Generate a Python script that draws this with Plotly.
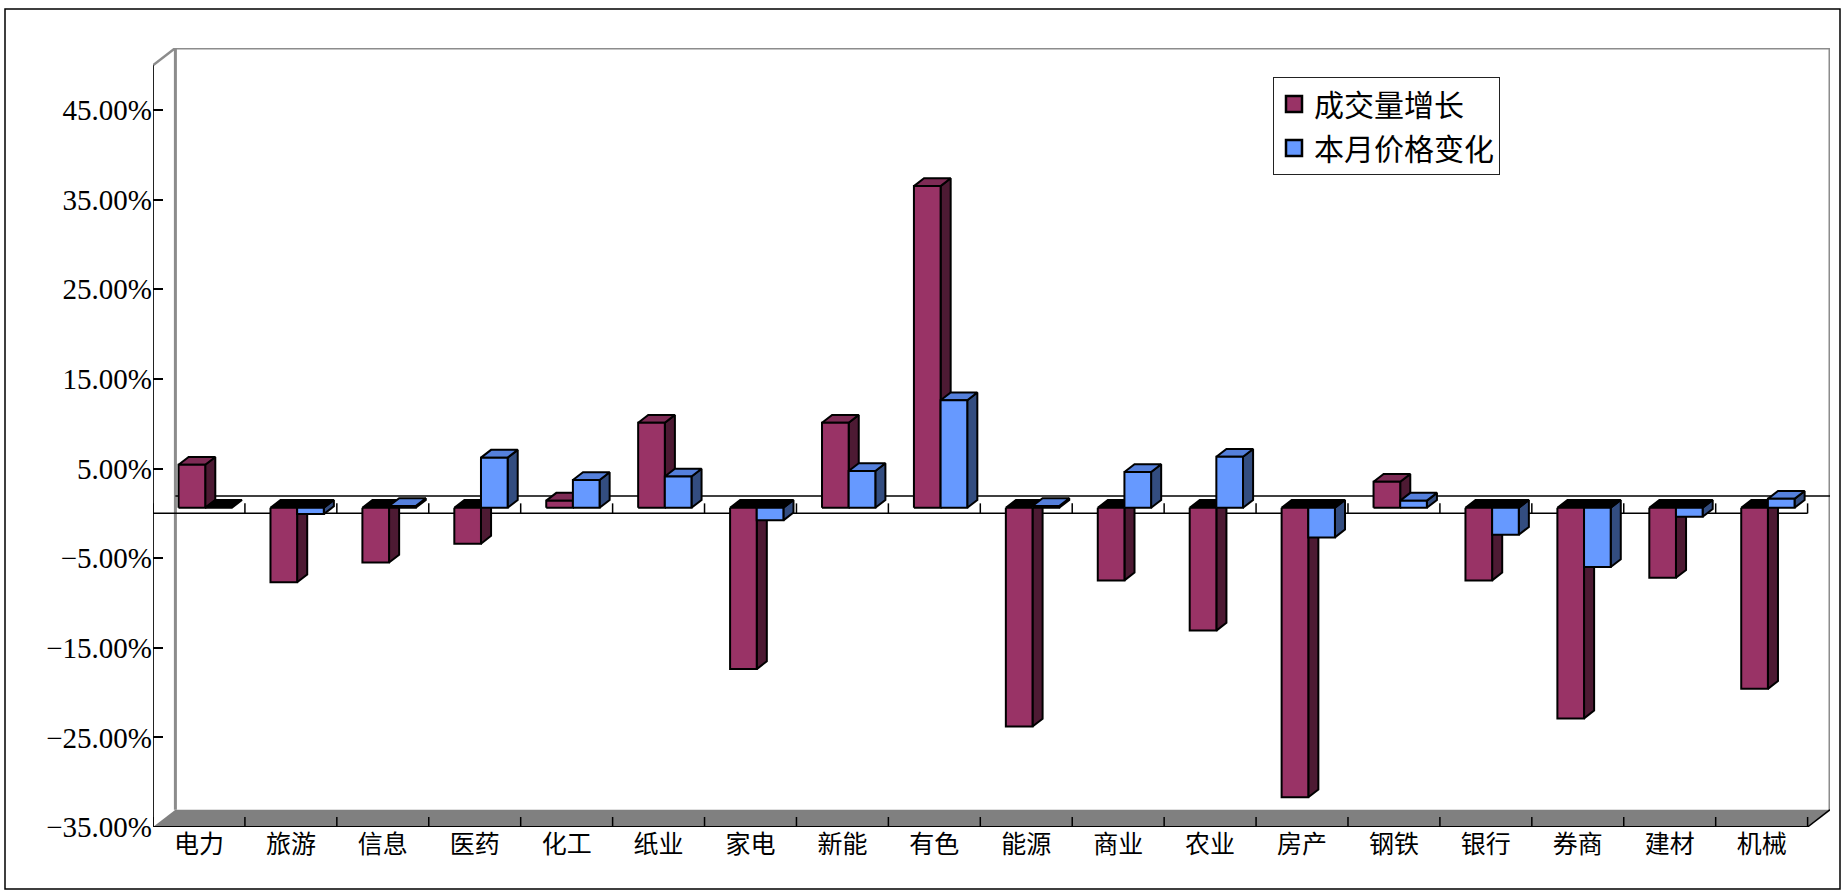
import plotly.graph_objects as go

# ---- data -------------------------------------------------------------
CATEGORIES = ["电力", "旅游", "信息", "医药", "化工", "纸业", "家电", "新能", "有色",
              "能源", "商业", "农业", "房产", "钢铁", "银行", "券商", "建材", "机械"]
VOLUME_GROWTH = [0.048, -0.083, -0.061, -0.040, 0.008, 0.095, -0.180, 0.095, 0.359,
                 -0.244, -0.081, -0.137, -0.323, 0.029, -0.081, -0.235, -0.078, -0.202]
PRICE_CHANGE = [0.000, -0.007, 0.002, 0.056, 0.031, 0.035, -0.014, 0.041, 0.120,
                0.002, 0.040, 0.057, -0.033, 0.008, -0.030, -0.066, -0.010, 0.010]
SERIES_NAMES = ["成交量增长", "本月价格变化"]
Y_TICKS = [-0.35, -0.25, -0.15, -0.05, 0.05, 0.15, 0.25, 0.35, 0.45]

# ---- layout geometry --------------------------------------------------
W, H = 1844, 893
ML, MR, MT, MB = 153, 14, 48, 66
PW, PH = W - ML - MR, H - MT - MB
N = len(CATEGORIES)
Y_MIN, Y_MAX = -0.35, 0.50
DEPTH_X = 0.2437          # oblique depth, in category units
DEPTH_Y = 0.0193          # oblique depth, in value units
X_RANGE = [0, N + DEPTH_X]
Y_RANGE = [Y_MIN, Y_MAX + DEPTH_Y]
PX_PER_Y = PH / (Y_RANGE[1] - Y_RANGE[0])

BAR_START, BAR_W = 0.20, 0.29   # bar placement inside a category slot
BAR_D0, BAR_D1 = 0.32, 0.77     # bar depth span (0 = front, 1 = back wall)

SERIES_STYLE = [
    {"front": "#993366", "side": "#4D1A33", "top": "#7E2B55"},
    {"front": "#6699FF", "side": "#334D80", "top": "#5580DC"},
]


def proj(c, v, d):
    """Oblique projection of (category pos, value, depth) onto the x/y axes."""
    return c + d * DEPTH_X, v + d * DEPTH_Y


def path(points):
    return "M " + " L ".join(f"{x},{y}" for x, y in points) + " Z"


def px_to_paper(px, py):
    return (px - ML) / PW, (H - MB - py) / PH


shapes = []

# outer chart frame
fx0, fy0 = px_to_paper(5, 889)
fx1, fy1 = px_to_paper(1840, 9)
shapes.append(dict(type="rect", xref="paper", yref="paper", x0=fx0, y0=fy0, x1=fx1, y1=fy1,
                   line=dict(color="#000000", width=1.5), layer="below"))

# floor
floor = [proj(0, Y_MIN, 0), proj(N, Y_MIN, 0), proj(N, Y_MIN, 1), proj(0, Y_MIN, 1)]
shapes.append(dict(type="path", path=path(floor), fillcolor="#808080",
                   line=dict(width=0), layer="below"))

# back wall edges
bw = [proj(0, Y_MIN, 1), proj(0, Y_MAX, 1), proj(N, Y_MAX, 1), proj(N, Y_MIN, 1)]
shapes.append(dict(type="path", path="M " + " L ".join(f"{x},{y}" for x, y in bw),
                   line=dict(color="#8C8C8C", width=3), layer="below"))
# left wall top edge
(a, b), (c2, d2) = proj(0, Y_MAX, 0), proj(0, Y_MAX, 1)
shapes.append(dict(type="line", x0=a, y0=b, x1=c2, y1=d2,
                   line=dict(color="#8C8C8C", width=2.5), layer="below"))

# floor front edge and right diagonal
shapes.append(dict(type="line", x0=0, y0=Y_MIN, x1=N, y1=Y_MIN,
                   line=dict(color="#000000", width=2), layer="below"))
(a, b), (c2, d2) = proj(N, Y_MIN, 0), proj(N, Y_MIN, 1)
shapes.append(dict(type="line", x0=a, y0=b, x1=c2, y1=d2,
                   line=dict(color="#000000", width=1.5), layer="below"))

# front value axis line
shapes.append(dict(type="line", x0=0, y0=Y_MIN, x1=0, y1=Y_MAX,
                   line=dict(color="#222222", width=2), layer="below"))

# zero line on the back wall and on the front plane
(a, b), (c2, d2) = proj(0, 0, 1), proj(N, 0, 1)
shapes.append(dict(type="line", x0=a, y0=b, x1=c2, y1=d2,
                   line=dict(color="#000000", width=1.5), layer="below"))
shapes.append(dict(type="line", x0=0, y0=0, x1=N, y1=0,
                   line=dict(color="#000000", width=1.5), layer="below"))

# category tick marks on the zero line and on the floor edge
tick_len = 10 / PX_PER_Y
for k in range(N + 1):
    for base in (0, Y_MIN):
        shapes.append(dict(type="line", x0=k, y0=base, x1=k, y1=base + tick_len,
                           line=dict(color="#000000", width=1.5), layer="below"))

# ---- bars as oblique prisms -------------------------------------------
fig = go.Figure()
series_values = [VOLUME_GROWTH, PRICE_CHANGE]


def face(points, color):
    xs = [p[0] for p in points] + [points[0][0]]
    ys = [p[1] for p in points] + [points[0][1]]
    fig.add_trace(go.Scatter(x=xs, y=ys, mode="lines", fill="toself", fillcolor=color,
                             line=dict(color="#000000", width=2), hoverinfo="skip",
                             showlegend=False))


for i in range(N):
    for s, values in enumerate(series_values):
        v = values[i]
        st = SERIES_STYLE[s]
        x0 = i + BAR_START + s * BAR_W
        x1 = x0 + BAR_W
        top = max(v, 0.0)
        side = [proj(x1, 0, BAR_D0), proj(x1, 0, BAR_D1), proj(x1, v, BAR_D1), proj(x1, v, BAR_D0)]
        lid = [proj(x0, top, BAR_D0), proj(x1, top, BAR_D0), proj(x1, top, BAR_D1), proj(x0, top, BAR_D1)]
        front = [proj(x0, 0, BAR_D0), proj(x1, 0, BAR_D0), proj(x1, v, BAR_D0), proj(x0, v, BAR_D0)]
        if v != 0:
            face(side, st["side"])
        face(lid, st["top"] if v > 0 else "#000000")
        if v != 0:
            face(front, st["front"])

# legend entries
for s, name in enumerate(SERIES_NAMES):
    fig.add_trace(go.Scatter(x=[None], y=[None], mode="markers", name=name,
                             legendgroup=name,
                             marker=dict(symbol="square", size=16,
                                         color=SERIES_STYLE[s]["front"],
                                         line=dict(color="#000000", width=2.5))))

lx, ly = px_to_paper(1273, 77)
fig.update_layout(
    width=W, height=H,
    margin=dict(l=ML, r=MR, t=MT, b=MB, pad=0),
    paper_bgcolor="#FFFFFF", plot_bgcolor="#FFFFFF",
    shapes=shapes,
    showlegend=True,
    legend=dict(x=lx, y=ly, xanchor="left", yanchor="top",
                bgcolor="#FFFFFF", bordercolor="#222222", borderwidth=1,
                font=dict(family="Noto Sans CJK SC", size=30, color="#000000"),
                tracegroupgap=2, itemwidth=30),
    xaxis=dict(range=X_RANGE, showgrid=False, zeroline=False, showline=False,
               tickmode="array", tickvals=[i + 0.5 for i in range(N)], ticktext=CATEGORIES,
               ticks="", tickfont=dict(family="Noto Sans CJK SC", size=25, color="#000000"),
               fixedrange=True),
    yaxis=dict(range=Y_RANGE, showgrid=False, zeroline=False, showline=False,
               tickmode="array", tickvals=Y_TICKS, tickformat=".2%",
               ticks="inside", ticklen=10, tickwidth=1.5, tickcolor="#000000",
               tickfont=dict(family="Liberation Serif", size=29, color="#000000"),
               fixedrange=True),
)

fig.write_html("out.html")
